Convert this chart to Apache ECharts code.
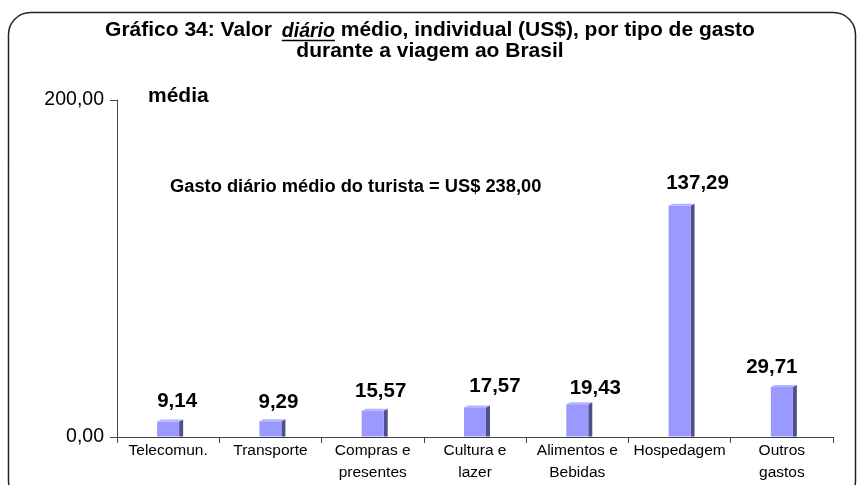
<!DOCTYPE html>
<html>
<head>
<meta charset="utf-8">
<script src="https://cdn.jsdelivr.net/npm/echarts@6/dist/echarts.min.js"></script>
<style>
html,body{margin:0;padding:0;background:#fff;}
#chart{width:858px;height:485px;}
</style>
</head>
<body>
<div id="chart"></div>
<script>
// ---- data ----
const categories = ['Telecomun.', 'Transporte', 'Compras e\npresentes', 'Cultura e\nlazer', 'Alimentos e\nBebidas', 'Hospedagem', 'Outros\ngastos'];
const values = [9.14, 9.29, 15.57, 17.57, 19.43, 137.29, 29.71];
const yTicks = [0, 200];
const titleLine1 = ['Gráfico 34: Valor ', 'diário', ' médio, individual (US$), por tipo de gasto'];
const titleLine2 = 'durante a viagem ao Brasil';
const unitText = 'média';
const noteText = 'Gasto diário médio do turista = US$ 238,00';

// ---- styles (label nudges, not data) ----
const labelDx = [9, 8, 8, 20, 18, 18, -10];
const labelDy = [-20, -19, -19, -21, -16, -22, -20];

const FONT = "'Liberation Sans', Arial, Helvetica, sans-serif";
const fmt = v => v.toFixed(2).replace('.', ',');

// measure title to place the underline under "diário"
const cv = document.createElement('canvas').getContext('2d');
const titleSize = 21;
const italicSize = 19.5;
cv.font = 'bold ' + titleSize + 'px ' + FONT;
const wPre = cv.measureText(titleLine1[0]).width + 4;
const wPost = cv.measureText(titleLine1[2]).width;
cv.font = 'italic bold ' + italicSize + 'px ' + FONT;
const wMid = cv.measureText(titleLine1[1]).width;
const totalW = wPre + wMid + wPost;
const titleCx = 430;
const ulX1 = titleCx - totalW / 2 + wPre;
const ulX2 = ulX1 + wMid;

const chart = echarts.init(document.getElementById('chart'), null, {renderer: 'canvas'});

const option = {
  animation: false,
  backgroundColor: '#ffffff',
  grid: {left: 117, right: 25, top: 100, bottom: 48, containLabel: false},
  graphic: [
    {type: 'rect', z: 0, shape: {x: 8.5, y: 12.5, width: 847, height: 490, r: 22},
     style: {fill: 'none', stroke: '#222', lineWidth: 1.5}},
    {type: 'text', z: 10, style: {text: titleLine1[0], x: titleCx - totalW / 2, y: 30.5, verticalAlign: 'middle', align: 'left',
      font: 'bold ' + titleSize + 'px ' + FONT, fill: '#000'}},
    {type: 'text', z: 10, style: {text: titleLine1[1], x: ulX1, y: 31.2, verticalAlign: 'middle', align: 'left',
      font: 'italic bold ' + italicSize + 'px ' + FONT, fill: '#000'}},
    {type: 'text', z: 10, style: {text: titleLine1[2], x: ulX2, y: 30.5, verticalAlign: 'middle', align: 'left',
      font: 'bold ' + titleSize + 'px ' + FONT, fill: '#000'}},
    {type: 'line', z: 10, shape: {x1: ulX1, y1: 40.5, x2: ulX2, y2: 40.5}, style: {stroke: '#000', lineWidth: 1.3}},
    {type: 'text', z: 10, style: {text: titleLine2, x: titleCx, y: 51, verticalAlign: 'middle', align: 'center',
      font: 'bold ' + titleSize + 'px ' + FONT, fill: '#000'}},
    {type: 'text', z: 10, style: {text: unitText, x: 148, y: 96, verticalAlign: 'middle', align: 'left',
      font: 'bold 21px ' + FONT, fill: '#000'}},
    {type: 'text', z: 10, style: {text: noteText, x: 170, y: 187, verticalAlign: 'middle', align: 'left',
      font: 'bold 18.3px ' + FONT, fill: '#000'}}
  ],
  xAxis: {
    type: 'category',
    data: categories,
    boundaryGap: true,
    axisLine: {show: true, lineStyle: {color: '#444', width: 1}},
    axisTick: {show: true, length: 6, inside: false, alignWithLabel: false, interval: 0, lineStyle: {color: '#444'}},
    axisLabel: {interval: 0, color: '#000', fontFamily: FONT, fontSize: 15.5, lineHeight: 22, margin: 3},
    splitLine: {show: false}
  },
  yAxis: {
    type: 'value',
    min: yTicks[0],
    max: yTicks[yTicks.length - 1],
    interval: yTicks[1] - yTicks[0],
    axisLine: {show: true, lineStyle: {color: '#444', width: 1}},
    axisTick: {show: true, length: 7, lineStyle: {color: '#444'}},
    axisLabel: {color: '#000', fontFamily: FONT, fontSize: 19.5, margin: 13, formatter: v => fmt(v)},
    splitLine: {show: false}
  },
  series: [{
    type: 'custom',
    data: values.map((v, i) => [i, v]),
    encode: {x: 0, y: 1},
    renderItem: function (params, api) {
      const i = api.value(0);
      const v = api.value(1);
      const top = api.coord([i, v]);
      const base = api.coord([i, 0]);
      const cx = top[0];
      const hw = 11, dx = 4, dy = 2;
      const ty = top[1], by = base[1];
      return {
        type: 'group',
        children: [
          {type: 'polygon', shape: {points: [[cx + hw, ty], [cx + hw + dx, ty - dy], [cx + hw + dx, by - 0.5], [cx + hw, by - 0.5]]},
            style: {fill: '#50508C'}},
          {type: 'polygon', shape: {points: [[cx - hw, ty], [cx - hw + dx, ty - dy], [cx + hw + dx, ty - dy], [cx + hw, ty]]},
            style: {fill: '#B4B4FF'}},
          {type: 'rect', shape: {x: cx - hw, y: ty, width: 2 * hw, height: by - ty - 0.5},
            style: {fill: '#9999FF'}},
          {type: 'text', style: {text: fmt(v), x: cx + labelDx[i], y: ty + labelDy[i], align: 'center', verticalAlign: 'middle',
            font: 'bold 20.5px ' + FONT, fill: '#000'}}
        ]
      };
    }
  }]
};
chart.setOption(option);
</script>
</body>
</html>
